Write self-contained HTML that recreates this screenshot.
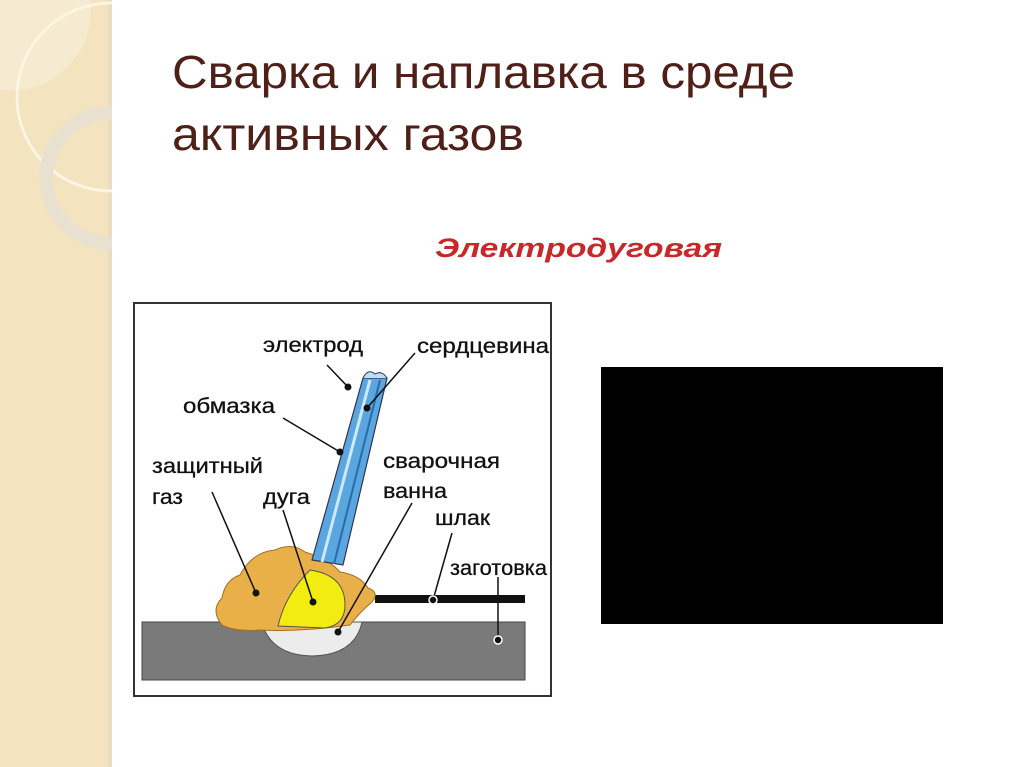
<!DOCTYPE html>
<html><head><meta charset="utf-8"><style>
html,body{margin:0;padding:0;background:#fff;}
svg{display:block}
</style></head><body>
<svg width="1024" height="767" viewBox="0 0 1024 767" xmlns="http://www.w3.org/2000/svg">
<rect x="0" y="0" width="1024" height="767" fill="#fff"/>
<rect x="0" y="0" width="111" height="767" fill="#f3e3bf"/>
<rect x="108" y="0" width="4" height="767" fill="#e9dcc0"/>
<path d="M0 0 L90 0 A80 80 0 0 1 0 90 Z" fill="#f6ead0"/>
<circle cx="111" cy="97" r="94" fill="none" stroke="#fbf5e3" stroke-width="3"/>
<circle cx="111" cy="178" r="65" fill="none" stroke="#e9e1cf" stroke-width="14"/>
<rect x="112" y="0" width="912" height="767" fill="#fff"/>

<text x="172" y="88" font-family="Liberation Sans, sans-serif" font-size="46" fill="#4f2018" textLength="623" lengthAdjust="spacingAndGlyphs">Сварка и наплавка в среде</text>
<text x="172" y="150" font-family="Liberation Sans, sans-serif" font-size="46" fill="#4f2018" textLength="352" lengthAdjust="spacingAndGlyphs">активных газов</text>
<text x="435" y="257" font-family="Liberation Sans, sans-serif" font-size="27" font-weight="bold" font-style="italic" fill="#c8282a" textLength="287" lengthAdjust="spacingAndGlyphs">Электродуговая</text>

<rect x="601" y="367" width="342" height="257" fill="#000"/>

<!-- diagram -->
<rect x="134" y="303" width="417" height="393" fill="#fff" stroke="#333" stroke-width="2"/>
<rect x="142" y="622" width="383" height="58" fill="#7a7a7a" stroke="#444" stroke-width="1"/>
<rect x="375" y="595" width="150" height="8" fill="#111"/>
<path d="M262 622 Q270 655 312 656 Q355 655 362 622 Z" fill="#ececec" stroke="#555"/>
<path d="M222 625 Q210 610 222 598 Q225 580 240 575 Q252 552 275 550 Q292 542 305 552 Q330 560 340 572 Q360 575 368 588 Q380 592 372 602 Q360 612 350 625 Q300 632 260 630 Q235 632 222 625 Z" fill="#e9b04a" stroke="#a07020"/>
<path d="M278 626 Q285 595 310 570 Q345 575 345 605 Q345 625 325 628 Z" fill="#f2ec10" stroke="#555"/>
<polygon points="363,378 387,378 343,565 312,560" fill="#5aa7e0" stroke="#335" stroke-width="1.2"/>
<line x1="370" y1="380" x2="322" y2="562" stroke="#cfe8ff" stroke-width="3"/>
<line x1="380" y1="380" x2="334" y2="564" stroke="#2a6aa8" stroke-width="2"/>
<path d="M363 378 Q368 368 375 374 Q382 370 387 378" fill="#bcdff5" stroke="#335"/>

<g font-family="Liberation Sans, sans-serif" font-size="21" fill="#111" stroke="#111" stroke-width="0.3">
<text x="263" y="352" textLength="100" lengthAdjust="spacingAndGlyphs">электрод</text>
<text x="417" y="353" textLength="132" lengthAdjust="spacingAndGlyphs">сердцевина</text>
<text x="183" y="413" textLength="92" lengthAdjust="spacingAndGlyphs">обмазка</text>
<text x="152" y="473" textLength="111" lengthAdjust="spacingAndGlyphs">защитный</text>
<text x="152" y="504" textLength="31" lengthAdjust="spacingAndGlyphs">газ</text>
<text x="263" y="504" textLength="47" lengthAdjust="spacingAndGlyphs">дуга</text>
<text x="383" y="468" textLength="117" lengthAdjust="spacingAndGlyphs">сварочная</text>
<text x="383" y="498" textLength="64" lengthAdjust="spacingAndGlyphs">ванна</text>
<text x="435" y="525" textLength="55" lengthAdjust="spacingAndGlyphs">шлак</text>
<text x="450" y="575" textLength="97" lengthAdjust="spacingAndGlyphs">заготовка</text>
</g>
<g stroke="#111" stroke-width="1.5">
<line x1="327" y1="365" x2="348" y2="387"/>
<line x1="415" y1="353" x2="367" y2="408"/>
<line x1="283" y1="418" x2="340" y2="452"/>
<line x1="212" y1="492" x2="256" y2="593"/>
<line x1="283" y1="510" x2="313" y2="602"/>
<line x1="412" y1="503" x2="338" y2="632"/>
<line x1="452" y1="533" x2="433" y2="600"/>
<line x1="498" y1="577" x2="498" y2="640"/>
</g>
<g fill="#111">
<circle cx="348" cy="387" r="3.5"/><circle cx="367" cy="408" r="3.5"/>
<circle cx="340" cy="452" r="3.5"/><circle cx="256" cy="593" r="3.5"/>
<circle cx="313" cy="602" r="3.5"/><circle cx="338" cy="632" r="3.5"/>
<circle cx="433" cy="600" r="4" stroke="#fff" stroke-width="1.5"/>
<circle cx="498" cy="640" r="4" stroke="#fff" stroke-width="1.5"/>
</g>
</svg>
</body></html>
